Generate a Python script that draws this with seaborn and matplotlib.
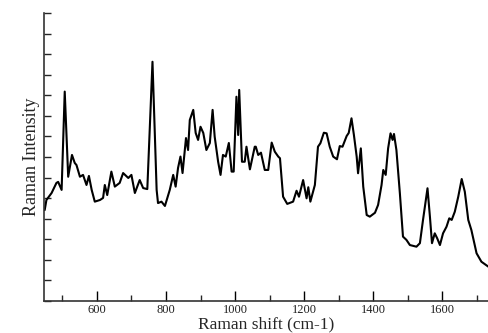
import matplotlib

matplotlib.use("Agg")
import matplotlib.pyplot as plt
import matplotlib.ticker as ticker
import pandas as pd
import seaborn as sns

# spectrum (arbitrary intensity units)
raman_shift = [
    449, 454, 469, 483, 488, 498, 507, 517, 528, 536, 541, 551, 560, 570,
    577, 585, 594, 609, 618, 623, 630, 642, 652, 666, 676, 691, 700, 710,
    724, 734, 746, 761, 773, 777, 787, 797, 811, 821, 828, 835, 842, 848,
    858, 864, 869, 879, 886, 893, 900, 908, 917, 927, 935, 941, 951, 958,
    965, 973, 982, 990, 996, 1004, 1009, 1012, 1020, 1028, 1033, 1043,
    1057, 1060, 1067, 1075, 1086, 1096, 1106, 1115, 1125, 1130, 1139, 1151,
    1168, 1178, 1185, 1197, 1207, 1212, 1218, 1231, 1240, 1247, 1257, 1265,
    1274, 1284, 1295, 1303, 1311, 1323, 1329, 1337, 1344, 1352, 1356, 1364,
    1371, 1381, 1390, 1405, 1414, 1424, 1429, 1436, 1443, 1450, 1456, 1460,
    1467, 1477, 1486, 1496, 1506, 1525, 1535, 1544, 1557, 1564, 1570, 1578,
    1585, 1593, 1602, 1612, 1620, 1627, 1636, 1646, 1656, 1665, 1675, 1684,
    1699, 1713, 1733,
]
intensity = [
    4.42, 4.91, 5.25, 5.74, 5.79, 5.40, 10.18, 6.04, 7.10, 6.71, 6.61, 6.04,
    6.13, 5.64, 6.08, 5.40, 4.83, 4.91, 5.01, 5.64, 5.15, 6.29, 5.56, 5.74,
    6.22, 5.98, 6.13, 5.25, 5.88, 5.49, 5.44, 11.63, 5.40, 4.76, 4.83, 4.62,
    5.40, 6.13, 5.56, 6.47, 7.02, 6.22, 7.92, 7.34, 8.80, 9.29, 8.17, 7.83,
    8.47, 8.17, 7.34, 7.68, 9.29, 7.99, 6.77, 6.13, 7.10, 7.02, 7.68, 6.29,
    6.29, 9.93, 8.07, 10.26, 6.77, 6.77, 7.50, 6.40, 7.50, 7.50, 7.10, 7.21,
    6.37, 6.37, 7.70, 7.26, 7.02, 6.94, 5.07, 4.72, 4.83, 5.36, 5.07, 5.88,
    4.99, 5.53, 4.83, 5.64, 7.50, 7.67, 8.18, 8.15, 7.50, 7.02, 6.89, 7.53,
    7.50, 8.02, 8.17, 8.88, 8.07, 7.02, 6.21, 7.42, 5.56, 4.18, 4.10, 4.29,
    4.67, 5.64, 6.37, 6.13, 7.42, 8.15, 7.83, 8.12, 7.34, 5.24, 3.13, 2.97,
    2.72, 2.64, 2.81, 3.94, 5.48, 4.10, 2.81, 3.29, 3.05, 2.72, 3.29, 3.61,
    4.02, 3.94, 4.34, 5.07, 5.93, 5.31, 3.94, 3.45, 2.32, 1.91, 1.67,
]

df = pd.DataFrame({"shift": raman_shift, "intensity": intensity})

sns.set_style("ticks")
plt.rcParams["font.family"] = ["Liberation Serif", "DejaVu Serif"]

fig = plt.figure(figsize=(4.89, 3.33), dpi=100)
ax = fig.add_axes([44 / 489, 32 / 333, 1 - 44 / 489, 288 / 333])

sns.lineplot(data=df, x="shift", y="intensity", color="black", linewidth=1.5, ax=ax)

ax.set_xlim(447, 1735)
ax.set_ylim(0, 14)
ax.xaxis.set_major_locator(ticker.MultipleLocator(200))
ax.xaxis.set_minor_locator(ticker.MultipleLocator(100))
ax.yaxis.set_major_locator(ticker.MultipleLocator(1))
ax.tick_params(axis="x", which="major", direction="in", length=7, width=1,
               labelsize=9, pad=2.5, colors="black", labelcolor="#222222")
ax.tick_params(axis="x", which="minor", direction="in", length=4, width=1)
ax.tick_params(axis="y", direction="in", length=5, width=1, labelleft=False)

sns.despine(ax=ax)
for side in ["left", "bottom"]:
    ax.spines[side].set_linewidth(1.2)
    ax.spines[side].set_color("#333333")

ax.set_xlabel("Raman shift (cm-1)", fontsize=12.5, labelpad=0)
ax.set_ylabel("Raman Intensity", fontsize=13, labelpad=3)

fig.savefig("out.png", dpi=100)
